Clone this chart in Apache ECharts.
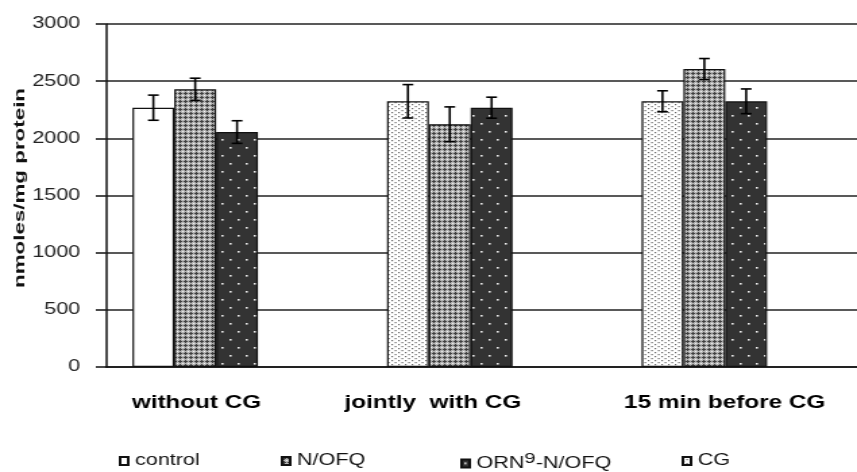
<!DOCTYPE html>
<html>
<head>
<meta charset="utf-8">
<script src="https://cdn.jsdelivr.net/npm/echarts@6/dist/echarts.min.js"></script>
<style>
  html, body { margin: 0; padding: 0; background: #fff; overflow: hidden; }
  /* the chart is laid out on a narrower canvas and widened horizontally */
  #chart { width: 635px; height: 472px; transform: scaleX(1.3496); transform-origin: 0 0; }
</style>
</head>
<body>
<div id="chart"></div>
<script>
// ---- data -------------------------------------------------------------
const categories = ['without CG', 'jointly  with CG', '15 min before CG'];
const seriesNames = ['control', 'N/OFQ', 'ORN9-N/OFQ', 'CG'];

const controlValues = [2268, '-', '-'];
const nofqValues    = [2429, 2123, 2606];
const ornValues     = [2055, 2268, 2324];
const cgValues      = ['-', 2324, 2324];

// standard errors (nmoles/mg protein)
const controlErr = [110, null, null];
const nofqErr    = [97, 152, 92];
const ornErr     = [99, 92, 108];
const cgErr      = [null, 146, 92];

const yMin = 0, yMax = 3000, yStep = 500;

// ---- fill patterns ----------------------------------------------------
function makeTile(w, h, bg, cells, fg, size) {
  const c = document.createElement('canvas');
  c.width = w; c.height = h;
  const g = c.getContext('2d');
  g.fillStyle = bg; g.fillRect(0, 0, w, h);
  g.fillStyle = fg;
  cells.forEach(p => g.fillRect(p[0], p[1], size, size));
  return c;
}
// cross-hatched grey
function crossTile() {
  const c = document.createElement('canvas');
  c.width = 4; c.height = 4;
  const g = c.getContext('2d');
  g.fillStyle = '#b4b4b4'; g.fillRect(0, 0, 4, 4);
  g.fillStyle = '#404040';
  [[1,0],[0,1],[1,1],[2,1],[1,2]].forEach(p => g.fillRect(p[0], p[1], 1, 1));
  g.fillStyle = '#f4f4f4';
  g.fillRect(3, 3, 1, 1);
  return c;
}
const whiteFill = '#ffffff';
const crossFill = { image: crossTile(), repeat: 'repeat' };
const darkDotFill = { image: makeTile(12, 16, '#333333', [[2, 3], [8, 11]], '#f0f0f0', 1.6), repeat: 'repeat' };
const lightDotFill = { image: makeTile(5, 4, '#ffffff', [[0, 0], [2.5, 2]], '#666666', 1.2), repeat: 'repeat' };

const BAR_W = 31;
const border = { borderColor: '#111', borderWidth: 1.2 };

// ---- error bar items: [category, value, error, slot] -------------------
const errData = [];
[[controlValues, controlErr, 0], [nofqValues, nofqErr, 1], [ornValues, ornErr, 2], [cgValues, cgErr, 0]]
  .forEach(([vals, errs, slot]) => {
    vals.forEach((v, i) => { if (v !== '-' && errs[i] != null) errData.push([i, v, errs[i], slot]); });
  });

const font = 'Liberation Sans, Arial, sans-serif';
const legendText = { fontSize: 16, color: '#111', fontFamily: font,
  rich: { n: { fontSize: 16, color: '#111', fontFamily: font },
          sup: { fontSize: 15, color: '#111', fontFamily: font, padding: [0, 0, 10, 0] } } };
const legendLeft = [88, 208, 341, 505];
const legendTop = [453, 453, 451, 453];

// category labels sit slightly off their group centres
const catLabel = {
  interval: 0, hideOverlap: false,
  fontSize: 18, fontWeight: 'bold', color: '#000', margin: 27,
  formatter: (v, i) => ['{a|' + v + '}', '{b|' + v + '}', '{c|' + v + '}'][i],
  rich: {
    a: { fontSize: 18, fontWeight: 'bold', color: '#000', padding: [0, 0, 0, 2] },
    b: { fontSize: 18, fontWeight: 'bold', color: '#000', padding: [0, 25, 0, 0] },
    c: { fontSize: 18, fontWeight: 'bold', color: '#000', padding: [0, 0, 0, 30] }
  }
};

const chart = echarts.init(document.getElementById('chart'));
chart.setOption({
  animation: false,
  textStyle: { fontFamily: font },
  grid: [
    { left: 50.3, right: 18.8, top: 24, bottom: 105 },   // bars
    { left: 78.5, right: 0, top: 24, bottom: 105 }       // frame, gridlines, value axis
  ],
  xAxis: [
    { type: 'category', gridIndex: 0, data: categories,
      axisLine: { show: false }, axisTick: { show: false }, axisLabel: catLabel },
    { type: 'category', gridIndex: 1, data: categories,
      axisLine: { lineStyle: { color: '#111', width: 1.5 } },
      axisTick: { show: false }, axisLabel: { show: false }, splitLine: { show: false } }
  ],
  yAxis: [
    { type: 'value', gridIndex: 0, min: yMin, max: yMax, interval: yStep, show: false },
    { type: 'value', gridIndex: 1, min: yMin, max: yMax, interval: yStep,
      axisLine: { show: true, lineStyle: { color: '#111', width: 1.5 } },
      axisTick: { show: true, length: 7.5, lineStyle: { color: '#111', width: 1.5 } },
      axisLabel: { fontSize: 16, color: '#222', margin: 19, formatter: v => String(v) },
      splitLine: { lineStyle: { color: '#222', width: 1.5 } } }
  ],
  graphic: [{
    type: 'text', x: 14.4, y: 188, rotation: Math.PI / 2, scaleX: 1.72, scaleY: 0.9,
    style: { text: 'nmoles/mg protein', font: 'bold 13px Liberation Sans, Arial, sans-serif',
             fill: '#111', align: 'center', verticalAlign: 'middle' }
  }],
  legend: seriesNames.map((name, i) => ({
    data: [name], left: legendLeft[i], top: legendTop[i], padding: 0,
    itemWidth: 6, itemHeight: 8, icon: 'rect',
    textStyle: legendText, selectedMode: false,
    formatter: n => n === 'ORN9-N/OFQ' ? '{n|ORN}{sup|9}{n|-N/OFQ}' : n
  })),
  series: [
    { name: seriesNames[0], type: 'bar', stack: 'first', data: controlValues, barWidth: BAR_W, barGap: '0%',
      itemStyle: Object.assign({ color: whiteFill }, border) },
    { name: seriesNames[1], type: 'bar', data: nofqValues, barWidth: BAR_W, barGap: '0%',
      itemStyle: Object.assign({ color: crossFill }, border) },
    { name: seriesNames[2], type: 'bar', data: ornValues, barWidth: BAR_W, barGap: '0%',
      itemStyle: Object.assign({ color: darkDotFill }, border) },
    { name: seriesNames[3], type: 'bar', stack: 'first', data: cgValues, barWidth: BAR_W, barGap: '0%',
      itemStyle: Object.assign({ color: lightDotFill }, border) },
    { type: 'custom', z: 10, data: errData, encode: { x: 0, y: 1 },
      renderItem: function (params, api) {
        const i = api.value(0), v = api.value(1), e = api.value(2), slot = api.value(3);
        const top = api.coord([i, v + e]);
        const bot = api.coord([i, v - e]);
        const x = top[0] + (slot - 1) * BAR_W;
        const cap = 4;
        const style = { stroke: '#000', lineWidth: 1.6 };
        return { type: 'group', children: [
          { type: 'line', shape: { x1: x, y1: top[1], x2: x, y2: bot[1] }, style: style },
          { type: 'line', shape: { x1: x - cap, y1: top[1], x2: x + cap, y2: top[1] }, style: style },
          { type: 'line', shape: { x1: x - cap, y1: bot[1], x2: x + cap, y2: bot[1] }, style: style }
        ] };
      } }
  ]
});
</script>
</body>
</html>
